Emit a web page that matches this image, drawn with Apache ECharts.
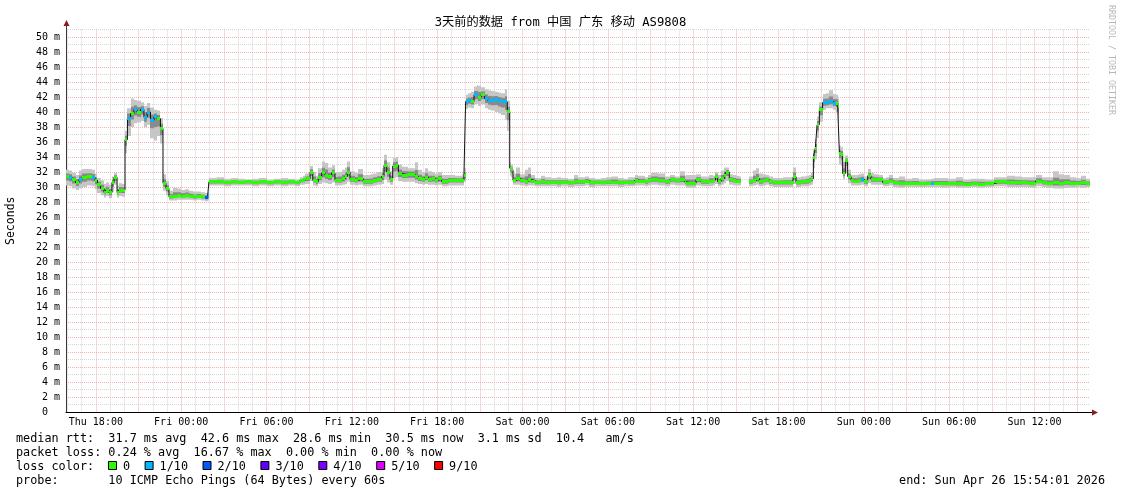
<!DOCTYPE html>
<html><head><meta charset="utf-8">
<script src="https://cdn.jsdelivr.net/npm/echarts@6/dist/echarts.min.js"></script>
<style>html,body{margin:0;padding:0;background:#fff}#c{width:1121px;height:494px}</style>
</head><body><div id="c"></div>
<script>
// ---- time axis: hours since Thu Apr 23 2026 00:00 ----
const START_H = 15 + 54/60 + 1/3600;   // Thu 15:54:01
const END_H = START_H + 72;            // Sun 15:54:01
const dayNames = ['Thu', 'Fri', 'Sat', 'Sun'];
const xLabelHours = [18, 24, 30, 36, 42, 48, 54, 60, 66, 72, 78, 84];
const xGridHours = [16,17,18,19,20,21,22,23,24,25,26,27,28,29,30,31,32,33,34,35,36,37,38,39,40,41,42,43,44,45,46,47,48,49,50,51,52,53,54,55,56,57,58,59,60,61,62,63,64,65,66,67,68,69,70,71,72,73,74,75,76,77,78,79,80,81,82,83,84,85,86,87];
const yLabelValues = [0,2,4,6,8,10,12,14,16,18,20,22,24,26,28,30,32,34,36,38,40,42,44,46,48,50];

// ---- data (ms) ----
const times = [
 15.9,16.11,16.32,16.57,16.81,17.03,17.38,17.73,17.94,18.11,18.33,18.57,18.71,18.92,19.13,19.28,19.49,19.63,19.84,20.05,20.22,20.44,20.68,20.89,21.14,21.38,21.6,21.84,22.09,22.3,22.54,22.72,22.93,23.14,23.42,23.7,23.99,24.27,24.55,24.83,25.11,25.39,25.67,25.85,25.95,26.5,27,27.5,28,28.5,29,29.5,30,30.5,31,31.5,32,
 32.35,32.59,32.7,33.06,33.25,33.48,33.64,33.88,34.11,34.34,34.58,34.81,35.05,35.28,35.52,35.68,35.87,36.22,36.45,36.8,37.28,37.51,37.75,38.1,38.26,38.45,38.68,38.87,39.1,39.27,39.5,39.97,40.44,40.67,40.91,41.14,41.38,41.61,41.85,42.08,42.32,42.79,43.25,43.72,43.88,44.0,44.19,44.38,44.59,44.78,
 44.87,45.1,45.34,45.57,45.8,46.04,46.28,46.51,46.75,46.93,47.1,47.21,47.33,47.56,47.8,48.15,48.38,48.62,
 48.9,49.3,49.56,50.0,50.4,50.73,51.2,51.6,51.9,52.37,52.7,53.08,53.5,53.9,54.24,54.7,55.1,55.42,55.89,56.12,56.59,56.82,57.06,57.53,58.0,58.35,58.7,59.05,59.4,
 59.5,60.2,60.55,61.14,61.37,61.56,61.72,61.96,62.19,62.31,62.54,62.78,63.01,63.25,63.36,63.95,64.18,64.42,64.65,64.89,65.12,65.35,65.59,66.29,66.99,67.04,67.23,67.58,67.93,68.17,68.29,68.45,68.59,68.71,68.87,69.1,69.34,69.57,69.81,70.04,70.16,70.28,70.39,70.51,70.7,70.86,71.1,71.33,71.57,71.8,72.04,72.27,72.5,72.74,72.97,73.32,73.56,73.79,74.03,
 74.5,74.9,75.4,75.9,76.35,76.72,76.93,77.4,77.9,78.5,79.0,79.5,80.0,80.5,81.15,81.6,82.09,82.6,83.1,83.6,84.08,84.5,84.9,85.3,85.7,86.1,86.5,86.9,87.3,87.65
];
const median = [
 31.4,31.3,31.0,30.6,31.0,31.3,31.4,31.3,30.9,30.3,29.8,29.3,29.6,29.25,30.6,31.3,29.3,29.6,29.6,36.3,39.2,39.8,40.35,40.0,40.35,39.3,40.0,38.9,39.4,39.1,37.8,30.5,29.8,28.7,28.8,28.9,28.8,28.9,28.8,28.7,28.8,28.7,28.6,28.7,30.7,30.7,30.6,30.7,30.6,30.7,30.6,30.7,30.6,30.7,30.6,30.7,30.6,
 30.9,30.9,31.1,32.0,30.9,30.7,31.3,31.9,31.6,31.4,31.9,30.9,30.9,31.1,31.4,32.0,31.0,30.9,31.1,30.7,30.7,30.9,31.0,31.4,32.9,32.0,31.0,32.8,32.9,31.8,31.6,31.7,31.4,31.1,31.0,31.3,31.0,31.1,30.9,31.1,30.7,30.9,30.9,30.9,31.5,41.4,41.5,41.4,42.3,42.2,
 42.0,42.3,41.8,41.5,41.5,41.7,41.5,41.4,41.35,40.05,32.5,32.3,30.9,31.1,30.9,30.7,31.0,30.8,
 30.6,30.7,30.6,30.65,30.6,30.65,30.6,30.7,30.7,30.8,30.6,30.65,30.6,30.7,30.65,30.6,30.65,30.6,30.9,30.8,30.7,30.9,31.0,30.9,30.7,31.0,30.9,31.0,30.7,
 30.5,31.0,30.7,30.8,30.9,31.4,30.7,31.1,31.6,32.0,31.0,30.9,30.8,30.8,null,30.7,30.9,31.1,30.7,30.9,31.0,30.7,30.6,30.6,30.6,31.4,30.6,30.7,30.7,30.9,31.1,34.0,35.2,38.3,40.3,41.25,41.25,41.4,41.2,41.2,40.7,34.5,34.4,31.8,33.5,31.4,30.9,30.8,30.9,31.0,30.7,31.5,31.0,31.0,31.0,30.6,30.7,30.8,30.6,
 30.5,30.5,30.5,30.45,30.5,30.5,30.5,30.5,30.45,30.45,30.4,30.45,30.4,30.45,30.7,30.7,30.6,30.55,30.6,30.5,30.8,30.6,30.5,30.55,30.5,30.6,30.5,30.5,30.55,30.45
];
const smokeLo = [
 30.2,30.1,29.8,29.6,29.8,30.0,30.2,30.1,29.7,29.2,28.9,28.6,28.8,28.5,29.3,30.3,28.6,28.8,28.7,34.5,36.8,38.0,38.5,38.6,38.8,38.0,38.3,36.5,36.2,36.8,35.8,29.5,28.9,28.2,28.2,28.3,28.3,28.3,28.3,28.2,28.3,28.2,28.1,28.2,30.2,30.2,30.1,30.2,30.2,30.2,30.1,30.2,30.1,30.2,30.1,30.2,30.1,
 30.3,30.3,30.4,30.8,30.2,30.1,30.4,30.6,30.5,30.4,30.6,30.2,30.2,30.3,30.4,30.7,30.3,30.2,30.3,30.1,30.1,30.2,30.3,30.4,31.0,30.6,30.3,31.2,31.3,30.8,30.7,30.7,30.5,30.4,30.3,30.4,30.3,30.3,30.2,30.3,30.1,30.2,30.2,30.2,30.7,40.4,40.6,40.5,41.0,41.1,
 40.8,41.0,40.5,40.3,40.2,40.0,39.8,39.6,39.0,37.5,31.5,31.3,30.3,30.3,30.2,30.1,30.2,30.2,
 30.1,30.1,30.1,30.1,30.0,30.1,30.0,30.1,30.1,30.2,30.0,30.1,30.1,30.1,30.1,30.0,30.1,30.1,30.2,30.2,30.1,30.2,30.3,30.2,30.1,30.3,30.2,30.2,30.1,
 29.9,30.2,30.1,30.1,30.2,30.4,30.1,30.3,30.5,30.8,30.3,30.2,30.2,30.2,null,30.1,30.2,30.3,30.1,30.2,30.3,30.1,30.0,30.0,30.1,30.4,30.0,30.1,30.1,30.2,30.3,32.5,33.7,36.5,38.7,40.3,40.5,40.5,40.3,40.0,38.5,33.0,32.8,31.0,32.0,30.5,30.2,30.2,30.2,30.3,30.1,30.5,30.3,30.3,30.3,30.1,30.1,30.2,30.0,
 29.9,30.0,30.0,30.0,30.0,30.0,30.0,29.9,30.0,29.9,29.9,30.0,29.9,30.0,30.1,30.1,30.0,30.0,30.0,29.9,30.1,30.0,29.9,29.8,29.8,29.9,29.9,30.0,29.9,30.0
];
const smokeHi = [
 32.3,32.2,31.9,31.6,32.2,32.4,32.4,32.3,31.8,31.2,30.9,30.4,30.6,30.3,31.4,31.9,30.2,30.5,30.4,37.5,40.5,41.8,41.6,41.5,41.3,40.8,41.2,40.6,40.3,40.2,39.2,31.7,30.8,29.5,29.9,29.8,29.6,29.7,29.5,29.4,29.4,29.3,29.2,29.3,31.2,31.3,31.1,31.2,31.1,31.0,31.1,31.2,31.0,31.1,31.2,31.1,31.0,
 31.3,31.5,31.8,32.8,32.0,31.5,32.5,33.4,33.2,32.6,32.9,31.9,32.0,32.3,32.6,33.4,32.1,31.9,32.4,31.6,31.7,31.8,32.0,32.5,34.3,33.3,32.1,33.9,34.0,33.0,32.7,32.5,33.3,32.3,32.0,32.5,32.1,32.0,31.8,32.0,31.6,31.6,31.5,31.7,32.5,42.3,42.5,42.7,43.4,43.6,
 43.5,43.3,43.0,42.9,42.8,42.7,42.6,42.5,43.0,41.5,33.3,33.0,31.8,32.6,31.7,32.3,32.6,31.6,
 31.2,31.5,31.3,31.2,31.3,31.2,31.1,31.6,31.3,31.4,31.2,31.1,31.2,31.3,31.4,31.2,31.1,31.3,31.6,31.5,31.3,31.6,31.9,31.8,31.4,31.6,31.4,32.1,31.5,
 31.6,31.7,31.4,31.6,31.5,32.0,31.6,32.2,32.6,32.6,31.7,31.6,31.5,31.4,null,31.4,32.2,32.5,31.8,31.7,31.6,31.4,31.2,31.3,31.4,32.6,31.3,31.4,31.5,31.6,31.9,35.0,36.4,39.4,41.3,42.4,42.5,42.9,42.4,42.3,41.8,35.5,35.3,33.3,34.2,32.3,31.6,31.6,31.7,31.8,31.4,32.4,31.9,31.7,31.6,31.2,31.3,31.6,31.2,
 31.4,31.1,31.2,31.0,31.0,31.1,31.2,31.2,31.1,31.3,31.0,31.1,31.1,31.0,31.3,31.3,31.5,31.4,31.3,31.3,31.6,31.3,31.3,32.1,31.7,31.6,31.3,31.2,31.5,31.1
];
// loss level index per step: 0 -> 0/10, 1 -> 1/10, 2 -> 2/10
const loss = [
 0,1,0,0,1,0,0,1,0,0,0,0,0,0,0,0,0,0,0,0,1,0,1,0,1,1,1,1,1,0,0,0,0,0,0,0,0,0,0,0,0,0,2,1,0,0,0,0,0,0,0,0,0,0,0,0,0,
 0,0,0,0,0,0,0,0,0,0,0,0,0,0,0,0,0,0,0,0,0,0,0,0,0,0,0,0,0,0,0,0,0,0,0,0,0,0,0,0,0,0,0,0,0,1,1,0,1,1,
 0,0,1,1,1,1,1,1,1,0,0,0,0,0,0,0,0,0,
 0,0,0,0,0,0,0,0,0,0,0,0,0,0,0,0,0,0,0,0,0,0,0,0,0,0,0,0,0,
 0,0,0,0,0,0,0,0,0,0,0,0,0,0,0,0,0,0,0,0,0,0,0,0,0,0,0,0,0,0,0,0,0,0,0,1,1,1,1,0,0,0,0,0,0,0,0,0,0,1,0,0,0,0,0,0,0,0,0,
 0,0,0,0,0,1,0,0,0,0,0,0,0,0,0,0,0,0,0,0,0,0,0,0,0,0,0,0,0,0
];
const lossLabels = ['0', '1/10', '2/10', '3/10', '4/10', '5/10', '9/10'];
const lossColors = ['#26ff00', '#00b8ff', '#0059ff', '#5e00ff', '#7e00ff', '#dd00ff', '#ff0000'];

const titleText = '3天前的数据 from 中国 广东 移动 AS9808';
const statLines = [
 'median rtt:  31.7 ms avg  42.6 ms max  28.6 ms min  30.5 ms now  3.1 ms sd  10.4   am/s',
 'packet loss: 0.24 % avg  16.67 % max  0.00 % min  0.00 % now'
];
const probeLine = 'probe:       10 ICMP Echo Pings (64 Bytes) every 60s';
const endLine = 'end: Sun Apr 26 15:54:01 2026';

// ---- build tables for the library ----
const stepTable = times.map((t, i) => [t, i + 1 < times.length ? times[i + 1] : END_H, smokeLo[i], smokeHi[i], median[i], loss[i]]);
const lineData = times.map((t, i) => [t, median[i]]);
lineData.push([END_H, median[median.length - 1]]);

const MONO = "'DejaVu Sans Mono', monospace";
const TITLE_FONT = "'DejaVu Sans Mono', 'Noto Sans CJK SC', monospace";
const RED = '#f2b0b0', GRAY = '#d6d6d6';

const chart = echarts.init(document.getElementById('c'), null, {renderer: 'canvas'});

const graphics = [];
const CW = 7.1, LX = 16;
const font = '11.8px ' + MONO;
function txt(text, x, y, extra) {
  graphics.push(Object.assign({type: 'text', x: x, y: y, silent: true,
    style: {text: text, font: font, fill: '#000', align: 'left', verticalAlign: 'middle', textAlign: 'left', textVerticalAlign: 'middle'}}, extra || {}));
}
txt(statLines[0], LX, 438.5);
txt(statLines[1], LX, 452.5);
txt('loss color:', LX, 466.5);
let bx = 108;
lossLabels.forEach((lab, i) => {
  graphics.push({type: 'rect', silent: true, shape: {x: bx + 0.5, y: 461.5, width: 8, height: 8},
    style: {fill: lossColors[i], stroke: '#000', lineWidth: 1}});
  txt(lab, bx + 15, 466.5);
  bx = bx + 15 + lab.length * CW + 14.5;
});
txt(probeLine, LX, 480.5);
graphics.push({type: 'text', x: 1105, y: 480.5, silent: true,
  style: {text: endLine, font: font, fill: '#000', align: 'right', verticalAlign: 'middle', textAlign: 'right', textVerticalAlign: 'middle'}});
// rrdtool watermark
graphics.push({type: 'text', x: 1111, y: 60, rotation: -Math.PI / 2, silent: true,
  style: {text: 'RRDTOOL / TOBI OETIKER', font: '8.3px ' + MONO, fill: '#b8b8b8', align: 'center', verticalAlign: 'middle', textAlign: 'center', textVerticalAlign: 'middle'}});
// axis arrows
graphics.push({type: 'line', silent: true, shape: {x1: 66.5, y1: 30, x2: 66.5, y2: 24}, style: {stroke: '#3a3a3a', lineWidth: 1}});
graphics.push({type: 'polygon', silent: true, shape: {points: [[63.5, 26], [69.5, 26], [66.5, 20]]}, style: {fill: '#8b1c1c'}});
graphics.push({type: 'line', silent: true, shape: {x1: 1090, y1: 412.5, x2: 1093, y2: 412.5}, style: {stroke: '#000', lineWidth: 1}});
graphics.push({type: 'polygon', silent: true, shape: {points: [[1092, 409.5], [1092, 415.5], [1098, 412.5]]}, style: {fill: '#8b1c1c'}});

const option = {
  animation: false,
  backgroundColor: '#ffffff',
  title: {text: titleText, left: 'center', top: 12,
    textStyle: {fontFamily: TITLE_FONT, fontSize: 12.2, fontWeight: 'normal', color: '#000'}},
  grid: {left: 66, right: 31, top: 29.5, bottom: 82, containLabel: false, outerBoundsMode: 'none'},
  xAxis: {
    type: 'value', min: START_H, max: END_H,
    axisLine: {show: true, lineStyle: {color: '#000', width: 1}},
    axisTick: {show: false, customValues: xGridHours},
    axisLabel: {customValues: xLabelHours, margin: 5, fontFamily: MONO, fontSize: 10, color: '#000',
      formatter: v => dayNames[Math.floor(v / 24)] + ' ' + String(Math.round(v % 24)).padStart(2, '0') + ':00'},
    splitLine: {show: true, lineStyle: {type: 'dotted', width: 1, color: [GRAY, GRAY, RED]}}
  },
  yAxis: {
    type: 'value', min: 0, max: 51, interval: 1,
    name: 'Seconds', nameLocation: 'middle', nameGap: 49, nameRotate: 90,
    nameTextStyle: {fontFamily: MONO, fontSize: 11.5, color: '#000'},
    axisLine: {show: true, lineStyle: {color: '#3a3a3a', width: 1}},
    axisTick: {show: false},
    axisLabel: {customValues: yLabelValues, margin: 6, fontFamily: MONO, fontSize: 10, color: '#000',
      formatter: v => v === 0 ? '0  ' : v + ' m'},
    splitLine: {show: true, lineStyle: {type: 'dotted', width: 1, color: [RED, GRAY]}}
  },
  series: [
    {
      type: 'custom', name: 'smoke', z: 2, clip: true, silent: true,
      data: stepTable, encode: {x: [0, 1], y: [2, 3]},
      renderItem: (params, api) => {
        const t0 = api.value(0), t1 = api.value(1), lo = api.value(2), hi = api.value(3), med = api.value(4);
        if (!(med > 0)) return null;
        const a = api.coord([t0, hi]), b = api.coord([t1, lo]);
        const x0 = Math.round(a[0]), x1 = Math.round(b[0]);
        const ih = api.coord([t0, med + (hi - med) * 0.45])[1];
        const il = api.coord([t0, med - (med - lo) * 0.45])[1];
        return {type: 'group', children: [
          {type: 'rect', shape: {x: x0, y: a[1], width: x1 - x0, height: b[1] - a[1]}, style: {fill: '#c6c6c6'}},
          {type: 'rect', shape: {x: x0, y: ih, width: x1 - x0, height: il - ih}, style: {fill: '#8a8a8a'}}
        ]};
      }
    },
    {
      type: 'line', name: 'median', z: 3, step: 'end', symbol: 'none', silent: true,
      connectNulls: false, data: lineData,
      lineStyle: {color: '#111', width: 1}
    },
    {
      type: 'custom', name: 'loss', z: 4, clip: true, silent: true,
      data: stepTable, encode: {x: [0, 1], y: 4},
      renderItem: (params, api) => {
        const t0 = api.value(0), t1 = api.value(1), med = api.value(4), l = api.value(5);
        if (!(med > 0)) return null;
        const a = api.coord([t0, med]), b = api.coord([t1, med]);
        const x0 = Math.round(a[0]), x1 = Math.round(b[0]);
        return {type: 'rect', shape: {x: x0, y: Math.round(a[1] - 1.5), width: Math.max(1, x1 - x0), height: 3},
          style: {fill: lossColors[l]}};
      }
    }
  ],
  graphic: graphics
};
chart.setOption(option);
</script></body></html>
